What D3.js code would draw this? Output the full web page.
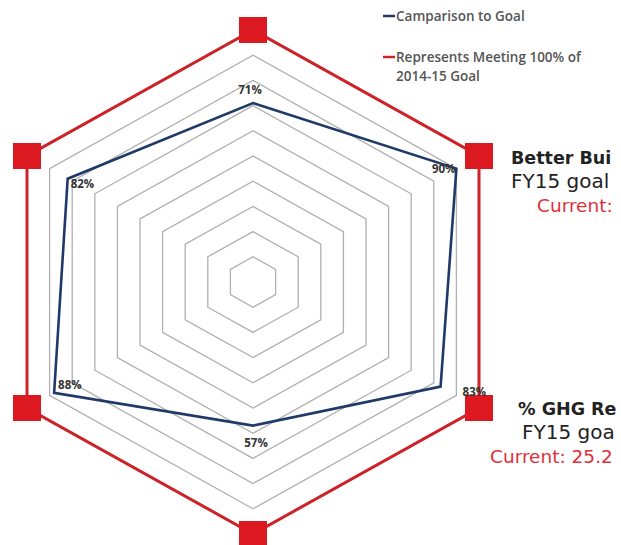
<!DOCTYPE html>
<html>
<head>
<meta charset="utf-8">
<script src="https://cdn.jsdelivr.net/npm/d3@7"></script>
<style>
  body { margin: 0; background: #fff; }
  svg { display: block; }
</style>
</head>
<body>
<svg id="radar" width="621" height="545"></svg>
<script>
// clockwise from the top vertex
const goalValues = [71, 90, 83, 57, 88, 82];
const targetValues = [100, 100, 100, 100, 100, 100];
const ringLevels = [10, 20, 30, 40, 50, 60, 70, 80, 90];
const legendLabels = ['Camparison to Goal', 'Represents Meeting 100% of', '2014-15 Goal'];
const sideTitles = ['Better Bui', '% GHG Re'];
const sideGoals = ['FY15 goal', 'FY15 goa'];
const sideCurrents = ['Current:', 'Current: 25.2'];

const width = 621;
const height = 545;
const cx = 253;
const cy = 282;
const rx = 226;
const ry = 252;

const blue = '#1f3a68';
const red = '#cc2229';
const grid = '#b0b0b0';

const rScale = d3.scaleLinear().domain([0, 100]).range([0, 1]);
const angle = i => i * Math.PI / 3;

function point(i, v) {
  const f = rScale(v);
  const a = angle(i);
  return [
    cx + f * rx * Math.sin(a) / Math.sin(Math.PI / 3),
    cy - f * ry * Math.cos(a)
  ];
}

const hexLine = d3.line().curve(d3.curveLinearClosed);

const svg = d3.select('#radar')
  .attr('viewBox', `0 0 ${width} ${height}`);

// grey rings
svg.append('g').attr('class', 'rings')
  .selectAll('path')
  .data(ringLevels)
  .join('path')
  .attr('d', lvl => hexLine(goalValues.map((_, i) => point(i, lvl))))
  .attr('fill', 'none')
  .attr('stroke', grid)
  .attr('stroke-width', 1.3);

// 100% goal polygon
svg.append('path')
  .attr('d', hexLine(targetValues.map((v, i) => point(i, v))))
  .attr('fill', 'none')
  .attr('stroke', red)
  .attr('stroke-width', 3);

// comparison polygon
svg.append('path')
  .attr('d', hexLine(goalValues.map((v, i) => point(i, v))))
  .attr('fill', 'none')
  .attr('stroke', blue)
  .attr('stroke-width', 2.6)
  .attr('stroke-linejoin', 'miter');

// square markers on the goal polygon
const markW = 28;
const markH = 26;
svg.append('g').attr('class', 'markers')
  .selectAll('rect')
  .data(targetValues)
  .join('rect')
  .attr('x', (v, i) => point(i, v)[0] - markW / 2)
  .attr('y', (v, i) => point(i, v)[1] - markH / 2)
  .attr('width', markW)
  .attr('height', markH)
  .attr('fill', '#dc1820');

// value labels: offset and anchor per vertex
const labelPlace = [
  { dx: -3, dy: -9, anchor: 'middle' },
  { dx: -1, dy: 4, anchor: 'end' },
  { dx: 22, dy: 9, anchor: 'start' },
  { dx: 3, dy: 21, anchor: 'middle' },
  { dx: 4, dy: -4, anchor: 'start' },
  { dx: 3, dy: 9, anchor: 'start' }
];

svg.append('g').attr('class', 'value-labels')
  .selectAll('text')
  .data(goalValues)
  .join('text')
  .attr('x', (v, i) => point(i, v)[0] + labelPlace[i].dx)
  .attr('y', (v, i) => point(i, v)[1] + labelPlace[i].dy)
  .attr('text-anchor', (v, i) => labelPlace[i].anchor)
  .attr('font-family', '"Open Sans", sans-serif')
  .attr('font-weight', 700)
  .attr('font-size', 11.5)
  .attr('fill', '#333')
  .text(v => v + '%');

// legend
const legend = svg.append('g').attr('class', 'legend')
  .attr('font-family', '"Open Sans", sans-serif')
  .attr('font-size', 13.5)
  .attr('font-weight', 600)
  .attr('fill', '#555');

const legendRows = [
  { text: legendLabels[0], y: 21, color: blue },
  { text: legendLabels[1], y: 62, color: red },
  { text: legendLabels[2], y: 81, color: null }
];

legendRows.forEach(row => {
  if (row.color) {
    legend.append('line')
      .attr('x1', 383).attr('x2', 395)
      .attr('y1', row.y - 5).attr('y2', row.y - 5)
      .attr('stroke', row.color)
      .attr('stroke-width', 2.5);
  }
  legend.append('text')
    .attr('x', 396)
    .attr('y', row.y)
    .text(row.text);
});

// notes on the right, cut by the page edge
const notes = svg.append('g').attr('class', 'notes')
  .attr('font-family', '"DejaVu Sans", sans-serif');

const noteBlocks = [
  { y: 164, xs: [511, 511, 537] },
  { y: 415, xs: [518, 522, 490] }
];

noteBlocks.forEach((b, k) => {
  notes.append('text')
    .attr('x', b.xs[0]).attr('y', b.y)
    .attr('font-size', 17.5).attr('font-weight', 700)
    .attr('fill', '#222')
    .text(sideTitles[k]);
  notes.append('text')
    .attr('x', b.xs[1]).attr('y', b.y + 24)
    .attr('font-size', 20)
    .attr('fill', '#222')
    .text(sideGoals[k]);
  notes.append('text')
    .attr('x', b.xs[2]).attr('y', b.y + 48)
    .attr('font-size', 18.5)
    .attr('fill', '#e0303a')
    .text(sideCurrents[k]);
});
</script>
</body>
</html>
